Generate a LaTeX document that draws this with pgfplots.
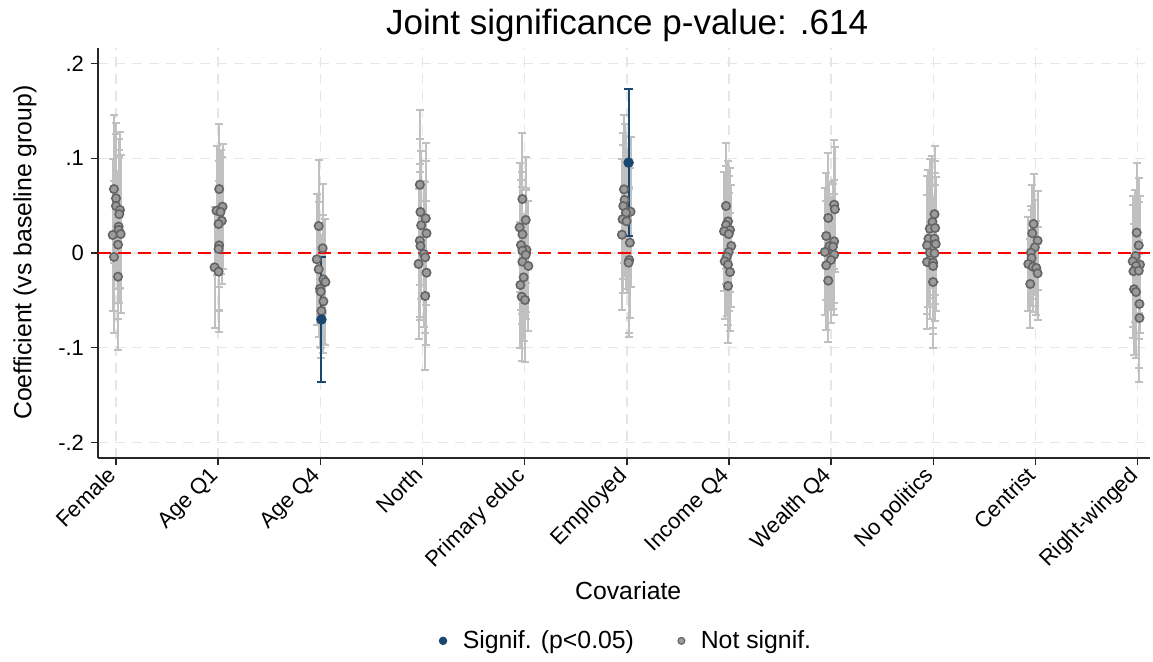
\documentclass[border=0pt]{standalone}
\usepackage{pgfplots}
\usepackage{pgfplotstable}
\pgfplotsset{compat=1.18}
\usepackage{fontspec}
\setmainfont{Liberation Sans}

\definecolor{navy}{RGB}{26,71,111}
\definecolor{cigray}{RGB}{192,192,192}
\definecolor{ptfill}{RGB}{155,155,155}
\definecolor{ptdraw}{RGB}{100,100,100}
\definecolor{gridgray}{RGB}{230,230,230}

% gray (not significant) estimates: x (category + jitter), coefficient, half CI
\pgfplotstableread{
x y e
0.980 0.0675 0.078
1.000 0.0577 0.080
1.000 0.0496 0.076
1.039 0.0454 0.082
1.032 0.0410 0.079
1.026 0.0278 0.081
1.026 0.0243 0.077
0.968 0.0190 0.080
1.046 0.0200 0.083
1.020 0.0088 0.078
0.980 -0.0042 0.080
1.020 -0.0250 0.077
2.010 0.0675 0.069
2.043 0.0489 0.066
1.984 0.0447 0.068
2.023 0.0433 0.065
2.036 0.0340 0.067
2.004 0.0306 0.066
2.010 0.0081 0.068
2.004 0.0042 0.065
1.965 -0.0151 0.064
2.004 -0.0197 0.064
2.984 0.0285 0.070
3.023 0.0050 0.068
2.965 -0.0067 0.069
2.984 -0.0172 0.071
3.030 -0.0278 0.068
3.050 -0.0306 0.066
2.997 -0.0377 0.062
3.004 -0.0408 0.060
3.030 -0.0510 0.055
3.011 -0.0612 0.050
3.974 0.0721 0.079
3.980 0.0433 0.077
4.032 0.0366 0.080
3.987 0.0292 0.078
4.039 0.0208 0.076
3.974 0.0130 0.081
3.980 0.0074 0.078
4.013 -0.0010 0.077
4.026 -0.0046 0.080
3.961 -0.0116 0.079
4.039 -0.0208 0.076
4.026 -0.0454 0.078
4.978 0.0570 0.070
5.010 0.0348 0.067
4.951 0.0270 0.068
4.978 0.0197 0.066
4.964 0.0084 0.069
5.017 0.0032 0.065
4.978 0.0025 0.067
5.010 -0.0020 0.068
4.978 -0.0092 0.066
5.036 -0.0137 0.069
4.990 -0.0257 0.067
4.958 -0.0338 0.066
4.971 -0.0461 0.068
5.003 -0.0496 0.065
5.972 0.0672 0.078
5.978 0.0560 0.080
5.965 0.0496 0.077
6.036 0.0436 0.079
5.991 0.0425 0.081
5.958 0.0356 0.078
5.997 0.0335 0.076
5.952 0.0193 0.080
6.030 0.0109 0.079
6.023 -0.0074 0.077
6.017 -0.0102 0.078
6.971 0.0496 0.066
6.990 0.0334 0.064
6.971 0.0295 0.062
7.010 0.0243 0.065
6.951 0.0229 0.063
6.997 0.0200 0.061
7.022 0.0074 0.064
6.997 0.0011 0.062
6.978 -0.0039 0.063
6.958 -0.0088 0.061
6.990 -0.0123 0.064
7.010 -0.0201 0.062
6.990 -0.0348 0.060
8.029 0.0510 0.068
8.036 0.0461 0.066
7.971 0.0370 0.069
7.951 0.0179 0.067
8.029 0.0123 0.065
7.983 0.0074 0.068
8.017 0.0067 0.066
7.938 0.0011 0.067
8.029 -0.0018 0.064
7.997 -0.0074 0.066
7.951 -0.0130 0.068
7.971 -0.0292 0.065
9.011 0.0410 0.072
8.991 0.0327 0.070
8.965 0.0257 0.073
9.017 0.0264 0.071
8.952 0.0151 0.072
9.011 0.0151 0.069
9.023 0.0095 0.071
8.938 0.0081 0.073
8.965 0.0003 0.070
9.011 -0.0003 0.072
8.938 -0.0095 0.071
8.997 -0.0102 0.069
8.997 -0.0137 0.072
8.997 -0.0306 0.070
9.980 0.0306 0.053
9.968 0.0208 0.051
10.020 0.0130 0.052
9.993 0.0060 0.050
9.954 0.0003 0.049
9.961 -0.0053 0.051
9.929 -0.0116 0.050
9.974 -0.0144 0.048
10.007 -0.0158 0.050
10.020 -0.0214 0.049
9.948 -0.0327 0.047
10.990 0.0215 0.073
11.010 0.0081 0.071
10.978 -0.0032 0.070
11.022 -0.0123 0.072
10.951 -0.0088 0.069
10.983 -0.0137 0.071
10.958 -0.0193 0.070
11.010 -0.0187 0.072
10.964 -0.0383 0.069
10.983 -0.0412 0.070
11.017 -0.0538 0.068
11.017 -0.0686 0.068
}\notsig

% navy (significant) estimates
\pgfplotstableread{
x y e
3.011 -0.0702 0.0656
6.017 0.0954 0.0774
}\sig

\begin{document}
\begin{tikzpicture}
\useasboundingbox (-49pt,-102pt) rectangle (527.5pt,229pt);
\begin{axis}[
  at={(0pt,0pt)}, anchor=south west,
  scale only axis,
  width=526pt, height=205pt,
  xmin=0.824, xmax=11.12,
  ymin=-0.2164, ymax=0.2164,
  axis x line*=bottom, axis y line*=left,
  axis line style={line width=0.75pt, color=black!85},
  tick align=outside,
  major tick length=3.5pt,
  tick style={line width=0.75pt, color=black!85},
  xtick={1,...,11},
  xticklabels={Female,Age Q1,Age Q4,North,Primary educ,Employed,Income Q4,Wealth Q4,No politics,Centrist,Right-winged},
  ytick={-0.2,-0.1,0,0.1,0.2},
  yticklabels={{-.2},{-.1},{0},{.1},{.2}},
  /pgf/number format/assume math mode=true,
  tick label style={font=\fontsize{11}{13}\selectfont},
  xticklabel style={rotate=45, anchor=north east, inner sep=1pt, xshift=-2.5pt, yshift=4.5pt},
  grid=major,
  major grid style={color=gridgray, line width=0.75pt, dash pattern=on 5pt off 3.5pt},
  every axis title shift=0pt,
  title={Joint significance p-value: .614},
  title style={at={(axis description cs:0.503,1.032)}, anchor=base, yshift=0pt, font=\fontsize{17.5}{20}\selectfont},
  xlabel={Covariate},
  xlabel style={at={(axis description cs:0.504,-0.346)}, anchor=base, font=\fontsize{12.4}{15}\selectfont},
  ylabel={Coefficient (vs baseline group)},
  ylabel style={at={(axis description cs:-0.0694,0.501)}, anchor=center, font=\fontsize{12.4}{15}\selectfont},
  legend style={at={(axis description cs:0.503,-0.446)}, anchor=center, draw=none, fill=none,
    font=\fontsize{12.4}{15}\selectfont, legend columns=2,
    /tikz/every odd column/.append style={column sep=6pt},
    /tikz/every even column/.append style={column sep=20pt}},
  clip=false,
]
% confidence intervals
\addplot[forget plot, color=cigray, only marks, mark=none,
  error bars/.cd, y dir=both, y explicit,
  error bar style={line width=1pt, color=cigray},
  error mark options={rotate=90, mark size=2pt, line width=1pt, color=cigray}]
  table[x=x, y=y, y error=e] {\notsig};
\addplot[forget plot, color=navy, only marks, mark=none,
  error bars/.cd, y dir=both, y explicit,
  error bar style={line width=1pt, color=navy},
  error mark options={rotate=90, mark size=2.3pt, line width=1pt, color=navy}]
  table[x=x, y=y, y error=e] {\sig};
% zero line
\addplot[forget plot, color=red, line width=1pt, dash pattern=on 6.5pt off 3.5pt]
  coordinates {(0.824,0) (11.12,0)};
% point estimates
\addplot[forget plot, only marks, mark=*, mark size=2.1pt,
  mark options={fill=ptfill, draw=ptdraw, line width=0.8pt}]
  table[x=x, y=y] {\notsig};
\addplot[forget plot, only marks, mark=*, mark size=2.4pt,
  mark options={fill=navy, draw=navy}]
  table[x=x, y=y] {\sig};
\addlegendimage{only marks, mark=*, mark size=1.9pt, mark options={fill=navy, draw=navy}}
\addlegendentry{Signif. (p<0.05)}
\addlegendimage{only marks, mark=*, mark size=1.7pt, mark options={fill=ptfill, draw=ptdraw, line width=0.6pt}}
\addlegendentry{Not signif.}
\end{axis}
\end{tikzpicture}
\end{document}
